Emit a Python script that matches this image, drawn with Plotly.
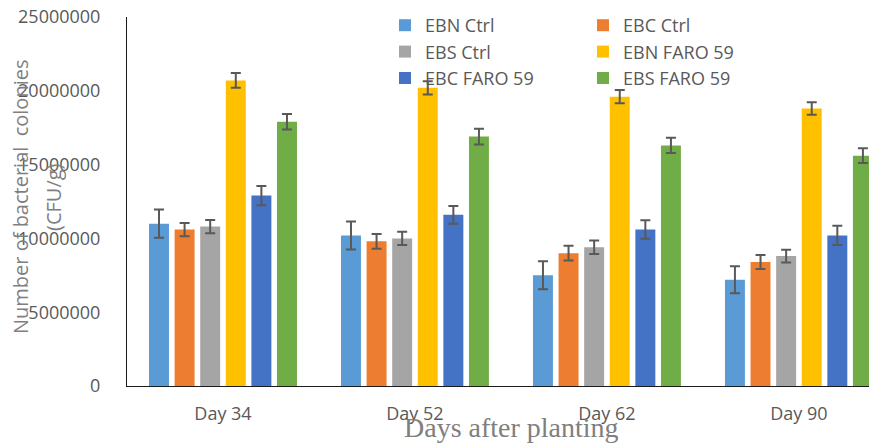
import plotly.graph_objects as go

# Sampling days (x categories)
days = ["Day 34", "Day 52", "Day 62", "Day 90"]

# Bacterial counts (CFU/g) per treatment, with standard errors
ebn_ctrl = [11000000, 10200000, 7500000, 7200000]
ebn_ctrl_err = [950000, 950000, 950000, 920000]

ebc_ctrl = [10600000, 9800000, 9000000, 8400000]
ebc_ctrl_err = [450000, 500000, 500000, 470000]

ebs_ctrl = [10800000, 10000000, 9400000, 8800000]
ebs_ctrl_err = [450000, 450000, 450000, 430000]

ebn_faro = [20700000, 20200000, 19600000, 18800000]
ebn_faro_err = [500000, 450000, 450000, 430000]

ebc_faro = [12900000, 11600000, 10600000, 10200000]
ebc_faro_err = [650000, 600000, 630000, 650000]

ebs_faro = [17900000, 16900000, 16300000, 15600000]
ebs_faro_err = [530000, 530000, 520000, 500000]

series = [
    ("EBN Ctrl", ebn_ctrl, ebn_ctrl_err, "#5B9BD5", "legend"),
    ("EBC Ctrl", ebc_ctrl, ebc_ctrl_err, "#ED7D31", "legend2"),
    ("EBS Ctrl", ebs_ctrl, ebs_ctrl_err, "#A5A5A5", "legend"),
    ("EBN FARO 59", ebn_faro, ebn_faro_err, "#FFC000", "legend2"),
    ("EBC FARO 59", ebc_faro, ebc_faro_err, "#4472C4", "legend"),
    ("EBS FARO 59", ebs_faro, ebs_faro_err, "#70AD47", "legend2"),
]

SANS = "Open Sans"
TXT = "#595959"

fig = go.Figure()
for name, vals, errs, color, leg in series:
    fig.add_trace(go.Bar(
        name=name, x=days, y=vals,
        marker=dict(color=color, line=dict(width=0)),
        error_y=dict(type="data", array=errs, visible=True,
                     color="#595959", thickness=2, width=5),
        legend=leg,
    ))

W, H = 869, 443
L, R, T, B = 127, 0, 17, 57
pw, ph = W - L - R, H - T - B


def px_x(x):
    return (x - L) / pw


def px_y(y):
    return (H - B - y) / ph


legend_common = dict(
    font=dict(family=SANS, size=18, color=TXT),
    bgcolor="rgba(0,0,0,0)", borderwidth=0,
    orientation="v", traceorder="normal",
    xanchor="left", yanchor="top",
)

fig.update_layout(
    width=W, height=H,
    margin=dict(l=L, r=R, t=T, b=B),
    paper_bgcolor="white", plot_bgcolor="white",
    barmode="group", bargap=0.2, bargroupgap=0.22,
    showlegend=True,
    legend=dict(x=px_x(385), y=px_y(7), **legend_common),
    legend2=dict(x=px_x(583), y=px_y(7), **legend_common),
    xaxis=dict(
        range=[-0.5, 3.365],
        showline=True, linecolor="#1a1a1a", linewidth=1,
        showgrid=False, ticks="", zeroline=False,
        tickfont=dict(family=SANS, size=18, color=TXT),
        ticklabelstandoff=11,
    ),
    yaxis=dict(
        range=[0, 25000000], dtick=5000000, tickformat="d",
        showline=True, linecolor="#1a1a1a", linewidth=1,
        showgrid=False, ticks="", zeroline=False,
        tickfont=dict(family=SANS, size=18, color=TXT),
        ticklabelstandoff=22,
    ),
    annotations=[
        dict(text="Number of bacterial\u00a0 colonies", textangle=-90,
             xref="paper", yref="paper", x=px_x(20), y=px_y(197),
             xanchor="center", yanchor="middle", showarrow=False,
             font=dict(family=SANS, size=20, color="#7f7f7f")),
        dict(text="(CFU/g)", textangle=-90,
             xref="paper", yref="paper", x=px_x(53), y=px_y(197),
             xanchor="center", yanchor="middle", showarrow=False,
             font=dict(family=SANS, size=20, color="#7f7f7f")),
        dict(text="Days after planting",
             xref="paper", yref="paper", x=px_x(511), y=px_y(427),
             xanchor="center", yanchor="middle", showarrow=False,
             font=dict(family="Liberation Serif", size=28, color="#7f7f7f")),
    ],
)

fig.write_html("out.html")
